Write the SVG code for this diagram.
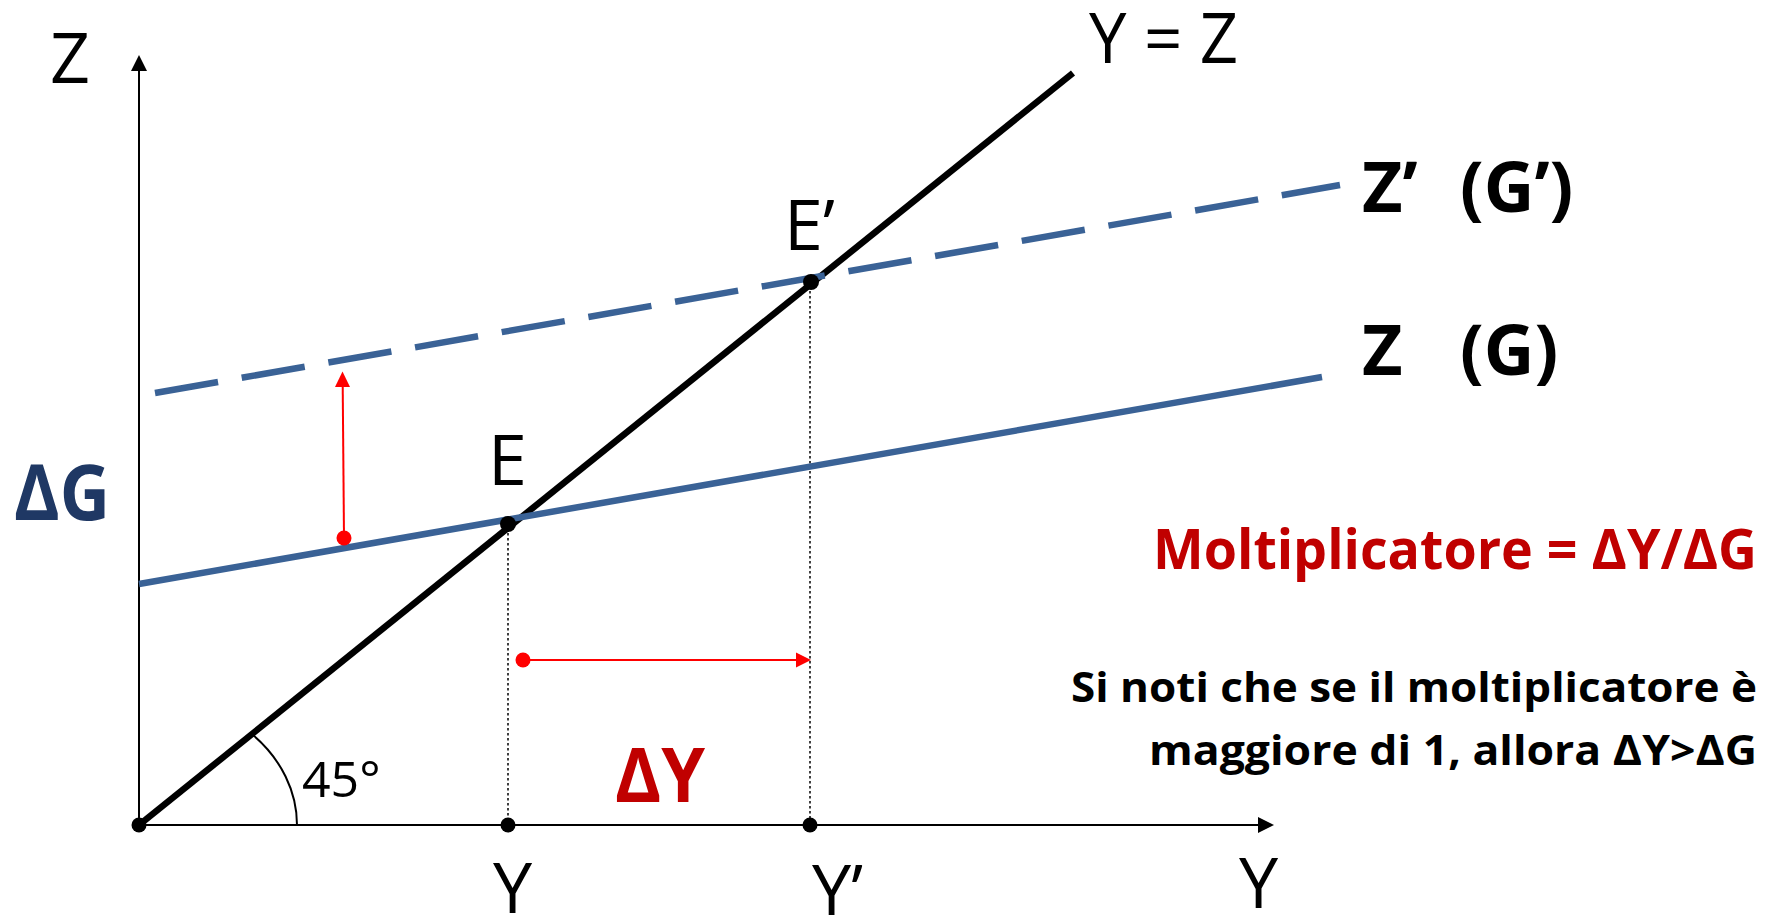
<svg xmlns="http://www.w3.org/2000/svg" width="1777" height="923" viewBox="0 0 1777 923">
<style>
.t{font-family:"Open Sans","Noto Sans","Liberation Sans",sans-serif;fill:#000}
.lab{font-size:70px}
.b{font-weight:bold}
.blue{stroke:#3A6296;stroke-width:6.5;fill:none}
.dot{fill:#000}
.rdot{fill:#FF0000}
.dotted{stroke:#000;stroke-width:1.5;stroke-dasharray:2.5 2.5;fill:none}
.red{stroke:#FF0000;stroke-width:2;fill:none}
</style>
<rect width="1777" height="923" fill="#fff"/>
<g id="connectors">
  <line x1="139" y1="825" x2="139" y2="68" stroke="#000" stroke-width="2"/>
  <polygon points="139,55 131,71 147,71" fill="#000"/>
  <line x1="139" y1="825" x2="1260" y2="825" stroke="#000" stroke-width="2"/>
  <polygon points="1274,825 1258,817 1258,833" fill="#000"/>
  <line x1="508" y1="523" x2="508" y2="825" class="dotted"/>
  <line x1="810" y1="281" x2="810" y2="825" class="dotted"/>
  <line x1="139" y1="825" x2="1073" y2="73" stroke="#000" stroke-width="6.5"/>
  <line x1="139" y1="584" x2="1322" y2="377" class="blue"/>
  <line x1="155" y1="393" x2="1340" y2="185" class="blue" stroke-dasharray="64 24"/>
  <path d="M253,735 A158,130 0 0 1 297,825" fill="none" stroke="#000" stroke-width="2"/>
  <line x1="344" y1="538" x2="342.7" y2="385" class="red"/>
  <polygon points="342.5,371.5 335,387 350,387" fill="#FF0000"/>
  <line x1="523" y1="660" x2="798" y2="660" class="red"/>
  <polygon points="811,660 796,652.5 796,667.5" fill="#FF0000"/>
</g>
<g id="points">
  <circle cx="139" cy="825" r="7.5" class="dot"/>
  <circle cx="508" cy="825" r="7.5" class="dot"/>
  <circle cx="810" cy="825" r="7.5" class="dot"/>
  <circle cx="508" cy="524" r="8" class="dot"/>
  <circle cx="811" cy="282" r="8" class="dot"/>
  <circle cx="344" cy="538" r="7.5" class="rdot"/>
  <circle cx="523" cy="660" r="7.5" class="rdot"/>
</g>
<g id="axis-labels">
  <text class="t lab" x="50" y="83">Z</text>
  <text class="t lab" x="1239" y="908">Y</text>
  <text class="t lab" x="493" y="913">Y</text>
  <text class="t lab" x="812" y="915">Y’</text>
</g>
<g id="line-labels">
  <text class="t lab" x="1089" y="63" textLength="149" lengthAdjust="spacingAndGlyphs">Y = Z</text>
  <text class="t lab b" x="1362" y="212" font-size="69px"><tspan>Z’</tspan><tspan x="1460">(G’)</tspan></text>
  <text class="t lab b" x="1362" y="375" font-size="69px"><tspan>Z</tspan><tspan x="1460">(G)</tspan></text>
  <text class="t lab" x="784" y="250">E’</text>
  <text class="t lab" x="488" y="485">E</text>
  <text class="t" x="302" y="797" font-size="50px">45°</text>
</g>
<g id="deltas">
  <text class="t b" x="14" y="520" font-size="77px" style="fill:#1F3864" textLength="96" lengthAdjust="spacingAndGlyphs">ΔG</text>
  <text class="t b" x="615" y="802" font-size="76px" style="fill:#C00000" textLength="90" lengthAdjust="spacingAndGlyphs">ΔY</text>
</g>
<g id="notes">
  <text class="t b" x="1757" y="569" font-size="56px" text-anchor="end" style="fill:#C00000" textLength="604" lengthAdjust="spacingAndGlyphs">Moltiplicatore = ΔY/ΔG</text>
  <text class="t b" x="1757" y="702" font-size="42px" text-anchor="end" textLength="686" lengthAdjust="spacingAndGlyphs">Si noti che se il moltiplicatore è</text>
  <text class="t b" x="1757" y="765" font-size="42px" text-anchor="end" textLength="608" lengthAdjust="spacingAndGlyphs">maggiore di 1, allora ΔY&gt;ΔG</text>
</g>
</svg>
